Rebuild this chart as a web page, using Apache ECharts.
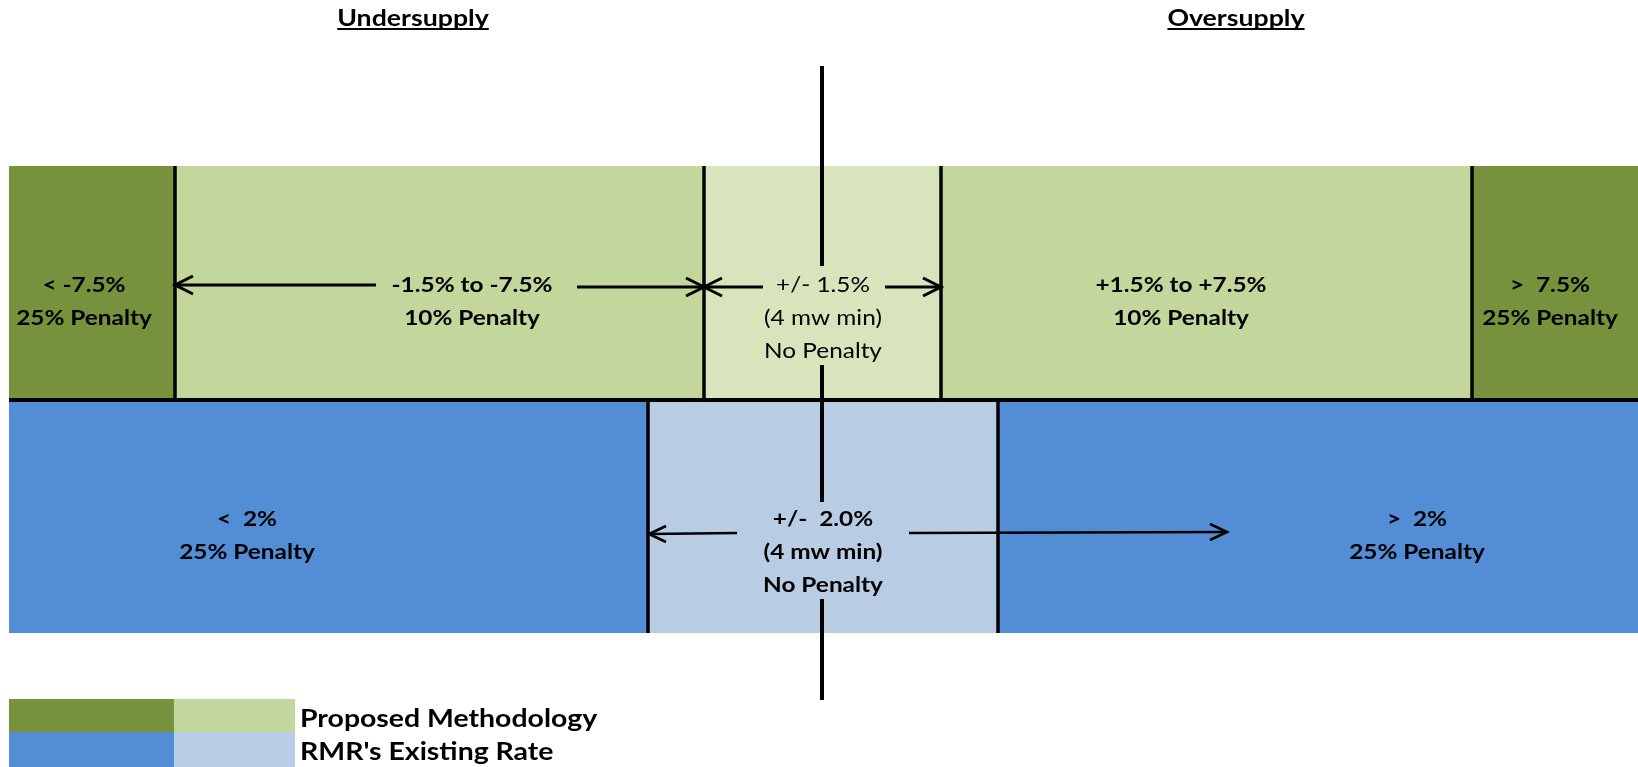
<!DOCTYPE html>
<html>
<head>
<meta charset="utf-8">
<script src="https://cdn.jsdelivr.net/npm/echarts@6/dist/echarts.min.js"></script>
<style>
  html, body { margin: 0; padding: 0; background: #fff; }
  #chart { width: 1638px; height: 767px; }
</style>
</head>
<body>
<div id="chart"></div>
<script>
  // --- data (chart units along the strip) ---
  const proposedEdges = [9, 175, 704, 941, 1472, 1638];
  const proposedShades = ["dark", "light", "pale", "light", "dark"];
  const proposedLabels = [
    ["< -7.5%", "25% Penalty"],
    ["-1.5% to -7.5%", "10% Penalty"],
    ["+/- 1.5%", "(4 mw min)", "No Penalty"],
    ["+1.5% to +7.5%", "10% Penalty"],
    [">  7.5%", "25% Penalty"]
  ];
  const existingEdges = [9, 648, 998, 1638];
  const existingShades = ["dark", "pale", "dark"];
  const existingLabels = [
    ["<  2%", "25% Penalty"],
    ["+/-  2.0%", "(4 mw min)", "No Penalty"],
    [">  2%", "25% Penalty"]
  ];
  const sideTitles = ["Undersupply", "Oversupply"];
  const legendNames = ["Proposed Methodology", "RMR's Existing Rate"];

  // --- layout ---
  const ROW = { top: 166, mid: 400, bottom: 633 };
  const AXIS_X = 822;
  const proposedLabelX = [84, 472, 823, 1181, 1550];
  const existingLabelX = [247, 823, 1417];
  const LINE_GAP = 33;
  const STRETCH = 1.16;
  const FONT = "Lato";

  const palette = {
    proposed: { dark: "#76923C", light: "#C3D69B", pale: "#D8E4BC" },
    existing: { dark: "#538DD5", pale: "#B8CCE4" }
  };

  // rectangles: bands + legend swatches
  const rects = [];
  const rectColors = [];
  proposedShades.forEach((s, i) => {
    rects.push([proposedEdges[i], proposedEdges[i + 1], ROW.top, ROW.mid]);
    rectColors.push(palette.proposed[s]);
  });
  existingShades.forEach((s, i) => {
    rects.push([existingEdges[i], existingEdges[i + 1], ROW.mid, ROW.bottom]);
    rectColors.push(palette.existing[s]);
  });
  rects.push([9, 174, 699, 732]); rectColors.push(palette.proposed.dark);
  rects.push([174, 295, 699, 732]); rectColors.push(palette.proposed.light);
  rects.push([9, 174, 732, 767]); rectColors.push(palette.existing.dark);
  rects.push([174, 295, 732, 767]); rectColors.push(palette.existing.pale);

  // black rules: [x0, y0, x1, y1, width]
  const rules = [];
  proposedEdges.slice(1, -1).forEach(x => rules.push([x, ROW.top, x, ROW.mid, 3.5]));
  existingEdges.slice(1, -1).forEach(x => rules.push([x, ROW.mid, x, ROW.bottom, 3.5]));
  rules.push([9, ROW.mid, 1638, ROW.mid, 4]);
  // zero axis, broken where the middle labels sit
  rules.push([AXIS_X, 66, AXIS_X, 266, 4]);
  rules.push([AXIS_X, 365, AXIS_X, 502, 4]);
  rules.push([AXIS_X, 599, AXIS_X, 700, 4]);

  // arrows: [x0, y0, tipX, tipY, width, armLen, armHalf]
  const arrows = [
    [376, 285, 175, 285, 3, 18, 9],
    [577, 287, 704, 287, 3, 18, 9],
    [763, 287, 704, 287, 3, 18, 9],
    [885, 287, 941, 287, 3, 18, 9],
    [737, 533, 649, 534, 2.6, 17, 8],
    [909, 533, 1227, 532, 2.6, 17, 8]
  ];

  // texts: [x, y] with specs
  const texts = [];
  const textSpecs = [];
  function addText(x, y, text, bold, size, align, underline) {
    texts.push([x, y]);
    textSpecs.push({ text, bold, size, align: align || "center", underline: !!underline });
  }
  proposedLabels.forEach((lines, i) => {
    lines.forEach((t, k) => addText(proposedLabelX[i], 285 + k * LINE_GAP, t, i !== 2, 21));
  });
  existingLabels.forEach((lines, i) => {
    lines.forEach((t, k) => addText(existingLabelX[i], 519 + k * LINE_GAP, t, true, 21));
  });
  addText(413, 19, sideTitles[0], true, 23, "center", true);
  addText(1236, 19, sideTitles[1], true, 23, "center", true);
  addText(300, 719, legendNames[0], true, 24.5, "left");
  addText(300, 752, legendNames[1], true, 24.5, "left");

  const measureCtx = document.createElement("canvas").getContext("2d");
  function fontOf(spec) {
    return (spec.bold ? "bold " : "") + spec.size + "px " + FONT;
  }

  const chart = echarts.init(document.getElementById("chart"));
  chart.setOption({
    animation: false,
    backgroundColor: "#fff",
    grid: { left: 0, right: 0, top: 0, bottom: 0 },
    xAxis: { type: "value", min: 0, max: 1638, show: false },
    yAxis: { type: "value", min: 0, max: 767, inverse: true, show: false },
    series: [
      {
        type: "custom",
        name: "bands",
        data: rects,
        silent: true,
        renderItem(params, api) {
          const p0 = api.coord([api.value(0), api.value(2)]);
          const p1 = api.coord([api.value(1), api.value(3)]);
          return {
            type: "rect",
            shape: { x: p0[0], y: p0[1], width: p1[0] - p0[0], height: p1[1] - p0[1] },
            style: { fill: rectColors[params.dataIndex] }
          };
        }
      },
      {
        type: "custom",
        name: "rules",
        data: rules,
        silent: true,
        renderItem(params, api) {
          const p0 = api.coord([api.value(0), api.value(1)]);
          const p1 = api.coord([api.value(2), api.value(3)]);
          return {
            type: "line",
            shape: { x1: p0[0], y1: p0[1], x2: p1[0], y2: p1[1] },
            style: { stroke: "#000", lineWidth: api.value(4) }
          };
        }
      },
      {
        type: "custom",
        name: "arrows",
        data: arrows,
        silent: true,
        renderItem(params, api) {
          const p0 = api.coord([api.value(0), api.value(1)]);
          const p1 = api.coord([api.value(2), api.value(3)]);
          const w = api.value(4), len = api.value(5), half = api.value(6);
          const dir = p1[0] > p0[0] ? -1 : 1;
          const style = { stroke: "#000", lineWidth: w, fill: null };
          return {
            type: "group",
            children: [
              { type: "line", shape: { x1: p0[0], y1: p0[1], x2: p1[0], y2: p1[1] }, style },
              {
                type: "polyline",
                shape: { points: [[p1[0] + dir * len, p1[1] - half], [p1[0], p1[1]], [p1[0] + dir * len, p1[1] + half]] },
                style
              }
            ]
          };
        }
      },
      {
        type: "custom",
        name: "labels",
        data: texts,
        silent: true,
        renderItem(params, api) {
          const spec = textSpecs[params.dataIndex];
          const p = api.coord([api.value(0), api.value(1)]);
          const font = fontOf(spec);
          const children = [{
            type: "text",
            x: p[0], y: p[1], scaleX: STRETCH,
            style: { text: spec.text, font, fill: "#000", align: spec.align, verticalAlign: "middle", x: 0, y: 0 }
          }];
          if (spec.underline) {
            measureCtx.font = font;
            const w = measureCtx.measureText(spec.text).width * STRETCH;
            children.push({
              type: "line",
              shape: { x1: p[0] - w / 2, y1: p[1] + 10, x2: p[0] + w / 2, y2: p[1] + 10 },
              style: { stroke: "#000", lineWidth: 2 }
            });
          }
          return { type: "group", children };
        }
      }
    ]
  });
</script>
</body>
</html>
